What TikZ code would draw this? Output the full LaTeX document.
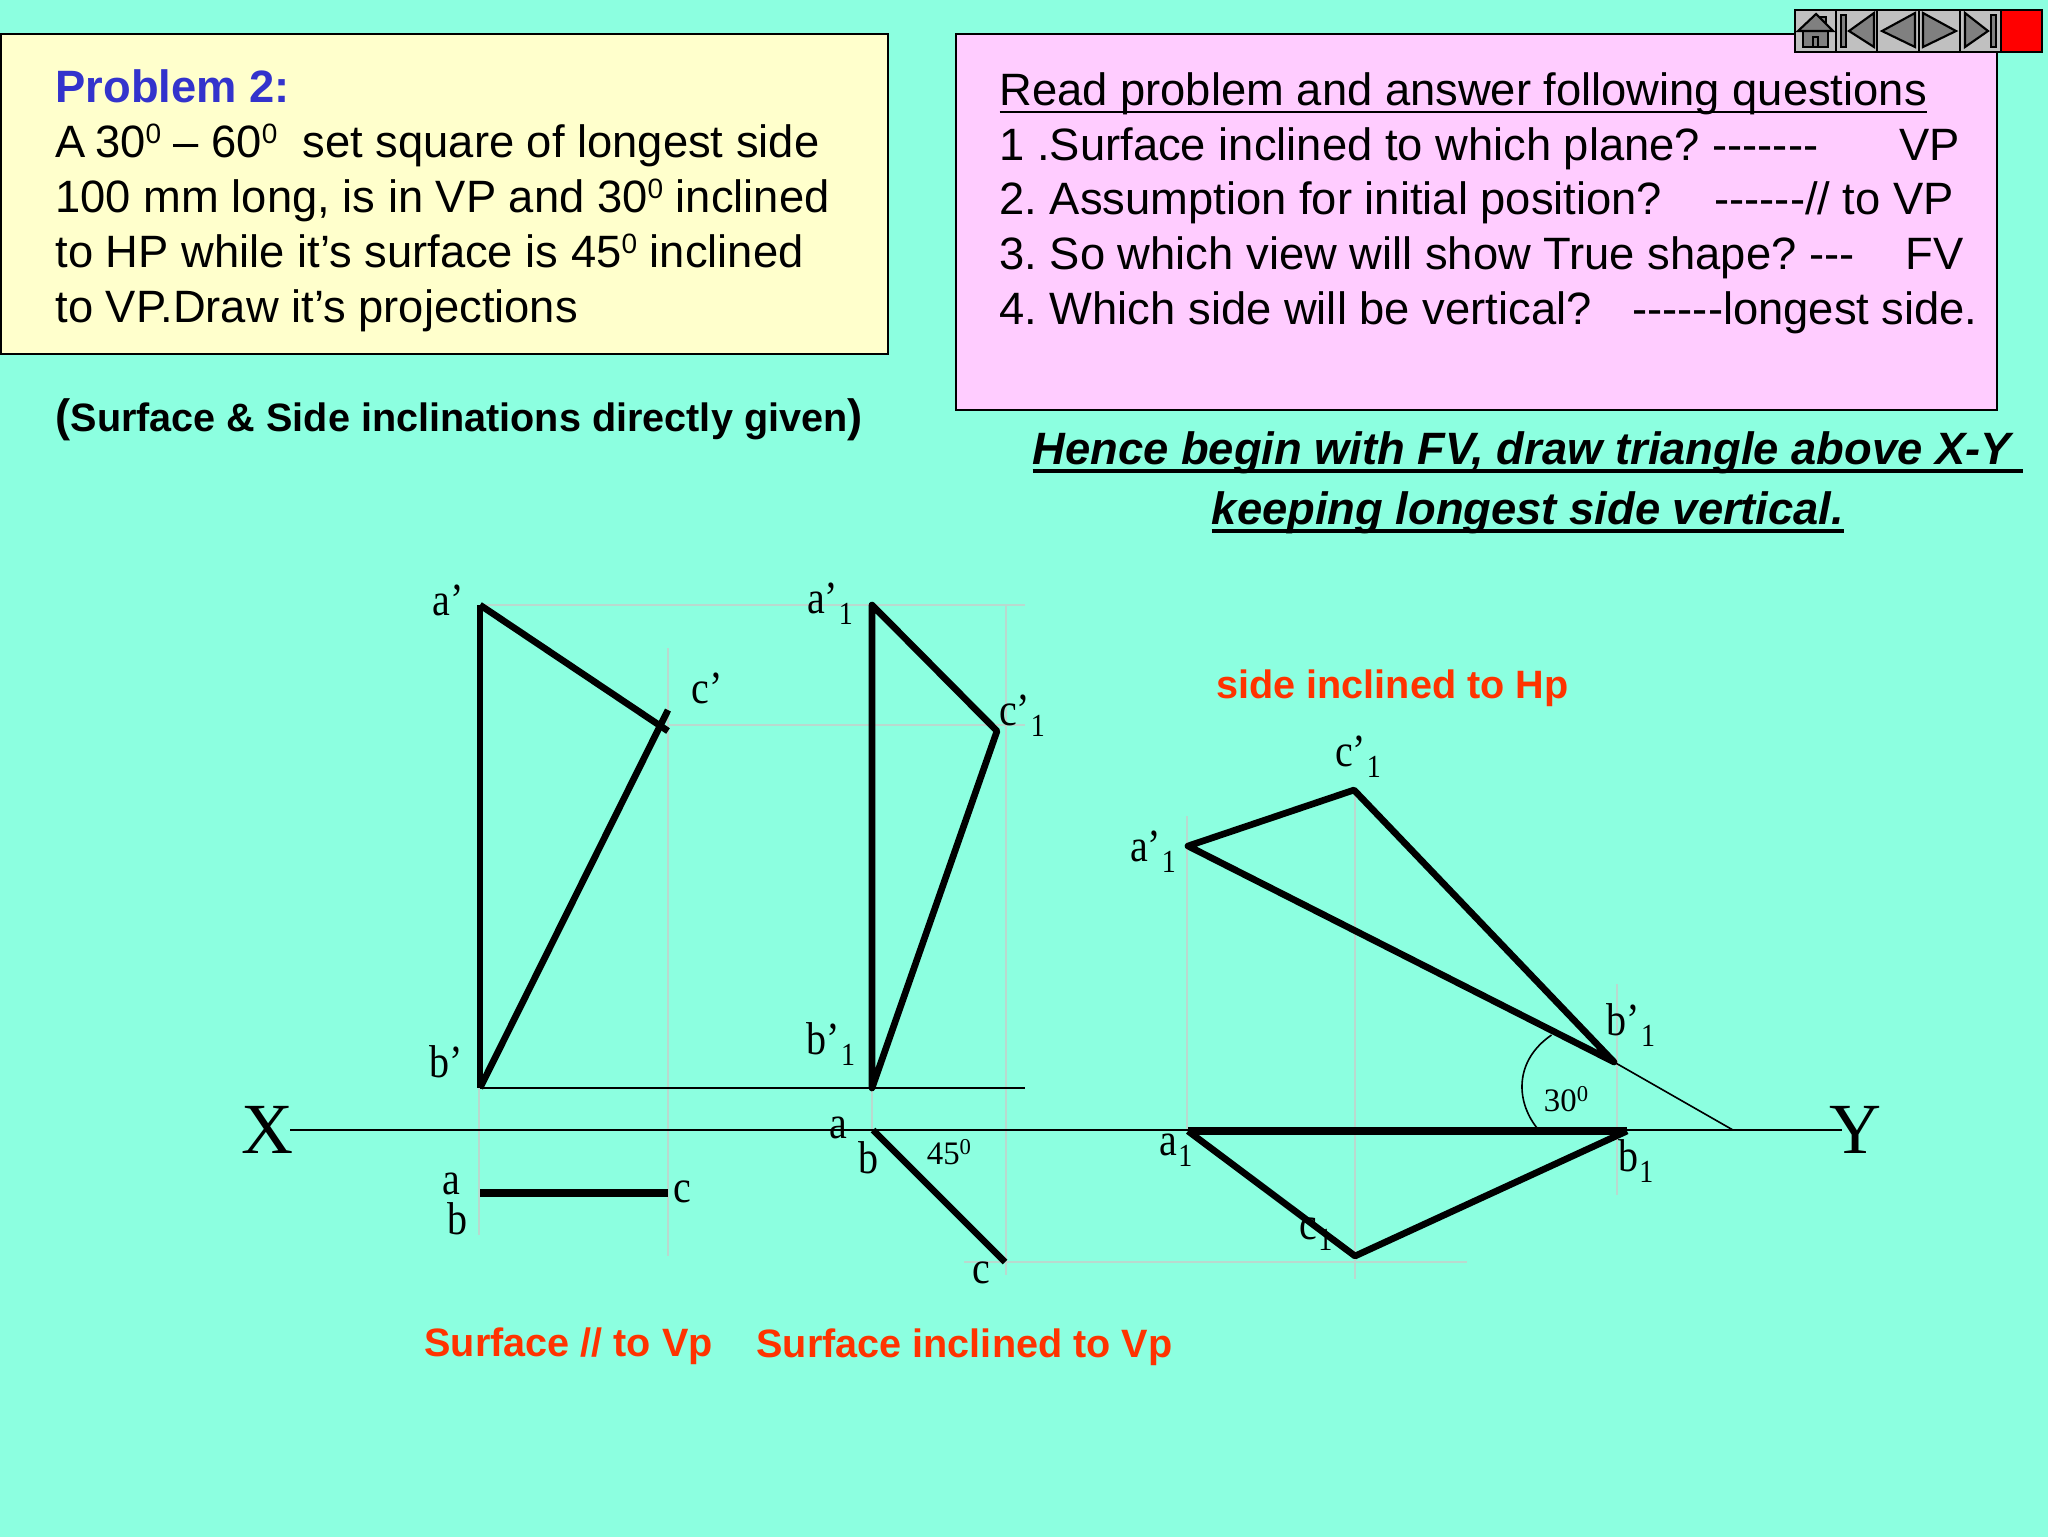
\documentclass[tikz,border=0pt]{standalone}
\usepackage{fontspec}
\usepackage{graphicx}
\setmainfont{Liberation Sans}
\newfontfamily\serifface{Liberation Serif}
\definecolor{bgc}{HTML}{8CFFE0}
\definecolor{yel}{HTML}{FFFFCC}
\definecolor{pnk}{HTML}{FFCCFF}
\definecolor{hd}{HTML}{3333CC}
\definecolor{rd}{HTML}{FF3300}
\definecolor{fnt}{HTML}{B9D9CF}
\definecolor{bgray}{HTML}{C0C0C0}
\definecolor{igray}{HTML}{808080}
\newcommand{\fs}[1]{\fontsize{#1}{#1}\selectfont}
\newcommand{\ps}[1]{\raisebox{5pt}{\fs{10.5}#1}}
\newcommand{\sbs}[1]{\hspace{.3pt}\raisebox{-3.5pt}{\fs{10.5}#1}}
\newcommand{\lb}[1]{\scalebox{1}[1.15]{#1}}
\newsavebox{\ulbox}
\newcommand{\ulthin}[1]{\sbox{\ulbox}{#1}\rlap{\usebox{\ulbox}}\raisebox{-3.05pt}[0pt][0pt]{\rule{\wd\ulbox}{.9pt}}}
\newcommand{\ulthick}[1]{\sbox{\ulbox}{#1}\rlap{\usebox{\ulbox}}\raisebox{-3.35pt}[0pt][0pt]{\rule{\wd\ulbox}{1.5pt}}}
\newcommand{\dsh}{-{}-{}-{}-{}-{}-{}}
\frenchspacing
\tikzset{
 box/.style={draw=black,line width=.7pt},
 txt/.style={anchor=base west,inner sep=0pt,font=\fs{17}},
 lab/.style={inner sep=0pt,font=\serifface\fs{15}},
 small/.style={inner sep=0pt,font=\serifface\fs{12.3}},
 big/.style={inner sep=0pt,font=\serifface\fs{27}},
 red/.style={anchor=base west,inner sep=0pt,font=\bfseries\fs{14.85},text=rd},
 thick line/.style={line width=2.5pt,line join=round},
 heavy line/.style={line width=2.8pt,line join=round},
 thin line/.style={line width=.9pt},
 faint/.style={line width=.4pt,draw=fnt},
 nav/.style={draw=black,line width=.8pt,fill=bgray},
 icon/.style={draw=black,line width=.8pt,fill=igray},
}
\begin{document}
\begin{tikzpicture}[x=.375pt,y=-.375pt]
\useasboundingbox (0,0) rectangle (2048,1536);
\fill[bgc] (-5,-5) rectangle (2053,1541);
% boxes
\draw[box,fill=yel] (1,34) rectangle (888,354);
\draw[box,fill=pnk] (956,34) rectangle (1997,410);
% left text
\node[txt,font=\bfseries\fs{17},text=hd] (p0) at (55,102) {Problem 2:};
\node[txt] (p1) at (55,157) {A\kern-1.2pt\ 30\ps{0} – 60\ps{0}\ \ set square of longest side};
\node[txt] (p2) at (55,212) {100 mm long, is in VP and 30\ps{0} inclined};
\node[txt] (p3) at (55,267) {to HP while it’s surface is 45\ps{0} inclined};
\node[txt] (p4) at (55,322) {to VP.Draw it’s projections};
\node[txt,font=\bfseries\fs{14.85}] (p5) at (55,431) {{\fs{17}(}Surface \& Side inclinations directly given{\fs{17})}};
% right text
\node[txt] (q0) at (999,105) {\ulthin{Read problem and answer following questions}};
\node[txt] (q1) at (999,160) {1 .Surface inclined to which plane? \dsh-};
\node[txt] (q1a) at (1899,160) {VP};
\node[txt] (q2) at (999,214) {2. Assumption for initial position?};
\node[txt] (q2a) at (1714,214) {\dsh// to VP};
\node[txt] (q3) at (999,269) {3. So which view will show True shape? -{}-{}-};
\node[txt] (q3a) at (1905,269) {FV};
\node[txt] (q4) at (999,324) {4. Which side will be vertical?};
\node[txt] (q4a) at (1632,324) {\dsh longest side.};
\node[anchor=base,inner sep=0pt,font=\bfseries\itshape\fs{17}] (h1) at (1528,464) {\ulthick{Hence begin with FV, draw triangle above X-Y\ }};
\node[anchor=base,inner sep=0pt,font=\bfseries\itshape\fs{17}] (h2) at (1528,524) {\ulthick{keeping longest side vertical.}};
% coloured captions
\node[red] (r1) at (1216,698) {side inclined to Hp};
\node[red] (r2) at (424,1356) {Surface // to Vp};
\node[red] (r3) at (756,1357) {Surface inclined to Vp};
% points
\coordinate (A) at (480,605);
\coordinate (B) at (480,1088);
\coordinate (C) at (661,725);
\coordinate (Ca) at (668,731);
\coordinate (Cb) at (668,710);
\coordinate (A1) at (872,605);
\coordinate (B1) at (872,1088);
\coordinate (C1) at (997,731);
\coordinate (X) at (290,1130);
\coordinate (Y) at (1842,1130);
\coordinate (ta) at (480,1193);
\coordinate (tc) at (668,1193);
\coordinate (ua) at (873,1130);
\coordinate (uc) at (1005,1262);
\coordinate (Pc) at (1354,790);
\coordinate (Pa) at (1188,846);
\coordinate (Pb) at (1614,1062);
\coordinate (Pe) at (1733,1130);
\coordinate (Qa) at (1188,1131);
\coordinate (Qb) at (1627,1131);
\coordinate (Qc) at (1355,1256);
% faint projectors
\draw[faint] (480,605) -- (1025,605);
\draw[faint] (668,725) -- (1025,725);
\draw[faint] (668,648) -- (668,1256);
\draw[faint] (1006,605) -- (1006,1275);
\draw[faint] (479,1088) -- (479,1235);
\draw[faint] (872,1088) -- (872,1130);
\draw[faint] (964,1262) -- (1467,1262);
\draw[faint] (1187,816) -- (1187,1131);
\draw[faint] (1355,790) -- (1355,1279);
\draw[faint] (1617,984) -- (1617,1195);
% labels under lines
\node[lab] (l9) at (1316,1234) {\lb{c\sbs{1}}};
% thin lines
\draw[thin line] (X) -- (Y);
\draw[thin line] (B) -- (1025,1088);
\draw[line width=.6pt] (Pb) -- (Pe);
\draw[line width=.6pt] (1551.5,1035) .. controls (1515,1060) and (1515,1100) .. (1537,1128);
% heavy lines
\draw[thick line] (A) -- (B);
\draw[thick line] (A) -- (Ca);
\draw[thick line] (B) -- (Cb);
\draw[thick line] (A1) -- (B1) -- (C1) -- cycle;
\draw[heavy line] (ta) -- (tc);
\draw[thick line] (ua) -- (uc);
\draw[thick line] (Pa) -- (Pc) -- (Pb) -- cycle;
\draw[thick line] (Qb) -- (Qc) -- (Qa);
\draw[heavy line] (Qa) -- (Qb);
% labels
\node[lab] (l1) at (448,600) {\lb{a’}};
\node[lab] (l2) at (446,1062) {\lb{b’}};
\node[lab] (l3) at (707,688) {\lb{c’}};
\node[lab] (l4) at (830,604) {\lb{a’\sbs{1}}};
\node[lab] (l5) at (1022,716) {\lb{c’\sbs{1}}};
\node[lab] (l6) at (831,1044) {\lb{b’\sbs{1}}};
\node[big] (lx) at (267,1130) {X};
\node[big] (ly) at (1855,1130) {Y};
\node[lab] (l7) at (838,1128) {\lb{a}};
\node[lab] (l8) at (868,1158) {\lb{b}};
\node[small] (a45) at (949,1152) {45\raisebox{3.5pt}{\fs{8.5}0}};
\node[lab] (m1) at (451,1184) {\lb{a}};
\node[lab] (m2) at (457,1219) {\lb{b}};
\node[lab] (m3) at (682,1192) {\lb{c}};
\node[lab] (m4) at (981,1273) {\lb{c}};
\node[lab] (n1) at (1176,1150) {\lb{a\sbs{1}}};
\node[lab] (n2) at (1636,1161) {\lb{b\sbs{1}}};
\node[small] (a30) at (1566,1099) {30\raisebox{3.5pt}{\fs{8.5}0}};
\node[lab] (n3) at (1358,757) {\lb{c’\sbs{1}}};
\node[lab] (n4) at (1153,852) {\lb{a’\sbs{1}}};
\node[lab] (n5) at (1631,1025) {\lb{b’\sbs{1}}};
% navigation bar
\draw[nav] (1795,10) rectangle (1836,52);
\draw[nav] (1836,10) rectangle (1877,52);
\draw[nav] (1877,10) rectangle (1919,52);
\draw[nav] (1919,10) rectangle (1960,52);
\draw[nav] (1960,10) rectangle (2001,52);
\draw[nav,fill=red] (2001,10) rectangle (2042,52);
\draw[icon] (1803,31) rectangle (1828,47);
\draw[icon] (1813,37) rectangle (1818,47);
\draw[icon] (1821,17) rectangle (1826,24);
\draw[icon] (1798,31) -- (1816,14) -- (1833,31) -- cycle;
\draw[icon] (1841,15) rectangle (1846,47);
\draw[icon] (1849,31) -- (1874,13) -- (1874,47) -- cycle;
\draw[icon] (1882,31) -- (1915,13) -- (1915,47) -- cycle;
\draw[icon] (1923,13) -- (1923,47) -- (1956,31) -- cycle;
\draw[icon] (1965,13) -- (1965,47) -- (1988,31) -- cycle;
\draw[icon] (1991,15) rectangle (1996,47);
\end{tikzpicture}
\end{document}
